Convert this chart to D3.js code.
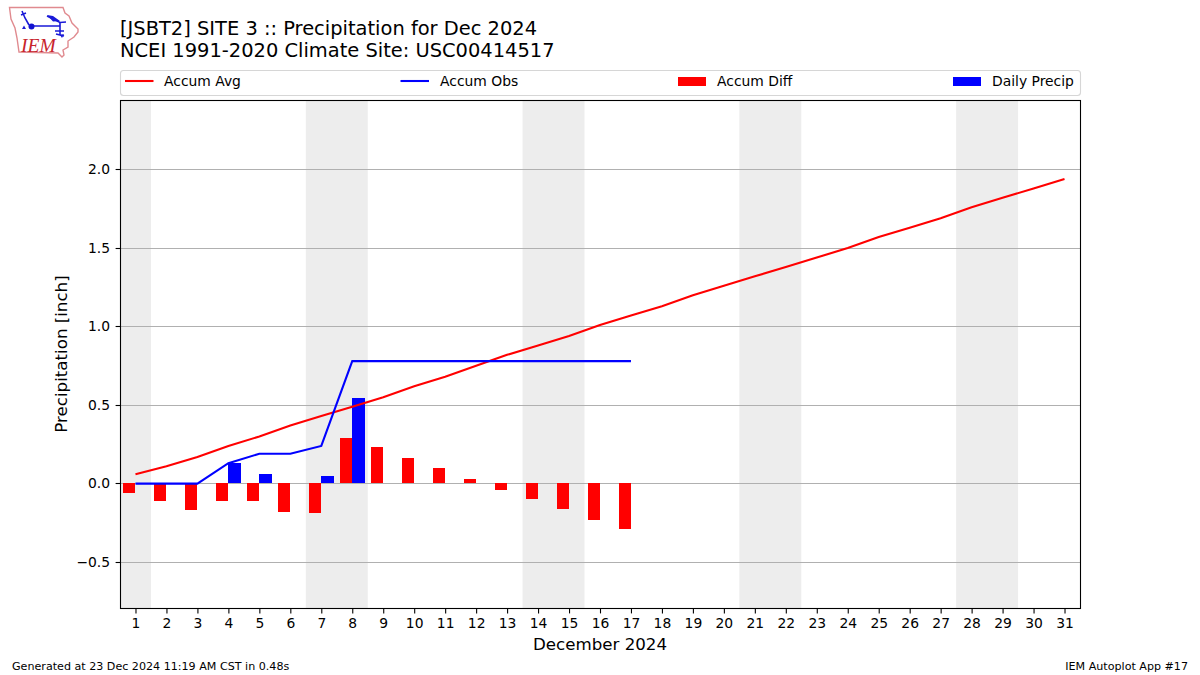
<!DOCTYPE html>
<html><head><meta charset="utf-8">
<script src="https://cdn.jsdelivr.net/npm/d3@7"></script>
<style>html,body{margin:0;padding:0;background:#fff}svg{display:block}text{font-family:"DejaVu Sans",sans-serif;fill:#000}</style>
</head><body><svg id="c" width="1200" height="675"></svg>
<script>
const titleLines = ["[JSBT2] SITE 3 :: Precipitation for Dec 2024", "NCEI 1991-2020 Climate Site: USC00414517"];
const days = d3.range(1, 32);
const accumAvg = [0.06,0.11,0.17,0.24,0.30,0.37,0.43,0.49,0.55,0.62,0.68,0.75,0.82,0.88,0.94,1.01,1.07,1.13,1.20,1.26,1.32,1.38,1.44,1.50,1.57,1.63,1.69,1.76,1.82,1.88,1.94];
const accumObs = [0,0,0,0.13,0.19,0.19,0.24,0.78,0.78,0.78,0.78,0.78,0.78,0.78,0.78,0.78,0.78];
const accumDiff = [-0.06,-0.11,-0.17,-0.11,-0.11,-0.18,-0.19,0.29,0.23,0.16,0.10,0.03,-0.04,-0.10,-0.16,-0.23,-0.29];
const dailyPrecip = [0,0,0,0.13,0.06,0,0.05,0.545,0,0,0,0,0,0,0,0,0];
const weekendBands = [[0.5,1.5],[6.5,8.5],[13.5,15.5],[20.5,22.5],[27.5,29.5]];
const yTicks = [-0.5,0,0.5,1,1.5,2];
const legendItems = [["Accum Avg","line","#f00"],["Accum Obs","line","#00f"],["Accum Diff","bar","#f00"],["Daily Precip","bar","#00f"]];

const svg = d3.select("#c");
const L=120,R=1080,T=100,B=608;
const x = d3.scaleLinear().domain([0.5,31.5]).range([L,R]);
const y = d3.scaleLinear().domain([-0.7924,2.4433]).range([B,T]);
const snapY = v => Math.floor(y(v))+0.5;
const px = v => Math.round(x(v));
const baseY = Math.floor(y(0));

// logo
const logo = svg.append("g");
logo.append("path").attr("fill","none").attr("stroke","#e08a8f").attr("stroke-width",1.4)
 .attr("d","M9.5,7.5 L63,7.5 L65,13 L69,16 L72,23 L78,29 L78,32 L74,37 L68,41 L68,47 L63,50 L64,55 L62,57 L58,53 L19,52 L17,38 L15,28 L11,19 Z");
logo.append("path").attr("fill","none").attr("stroke","#1a1ad8").attr("stroke-width",1.6)
 .attr("d","M22,11 L25,18 L29,25 M21,15 L26,13 M31,26 L60,26 L60,35 M47,16 L60,22.5 L66,22 M60,22.5 L60,26 M55,31 L64,31 M56,34 L64,36");
logo.append("circle").attr("cx",31.5).attr("cy",26.5).attr("r",3).attr("fill","#1212d0");
logo.append("path").attr("fill","#1a1ad8").attr("d","M47,15 L53,16 L60,21 L53,21.5 Z M22,29 L24,25.5 L26,29 Z M60,35 L64,34 L62,38 Z");
logo.append("text").attr("x",21).attr("y",52).attr("font-size",19.5).style("font-family","'Liberation Serif',serif").style("font-style","italic").style("fill","#c8242c").text("IEM");

// title
svg.selectAll(".ttl").data(titleLines).join("text").attr("class","ttl")
 .attr("x",120).attr("y",(d,i)=>35+i*22).attr("font-size",19.44).text(d=>d);

// bands
svg.append("g").selectAll("rect").data(weekendBands).join("rect")
 .attr("x",d=>x(d[0])).attr("width",d=>x(d[1])-x(d[0])).attr("y",T).attr("height",B-T).attr("fill","#ededed");

// grid
svg.append("g").selectAll("line").data(yTicks).join("line")
 .attr("x1",L).attr("x2",R).attr("y1",snapY).attr("y2",snapY)
 .attr("stroke","#b0b0b0").attr("stroke-width",1.1);

// bars
const bw=0.4;
const edgeY = v => Math.round(y(v));
const diffData = accumDiff.map((v,i)=>({d:days[i],v}));
svg.append("g").attr("shape-rendering","crispEdges").selectAll("rect").data(diffData).join("rect")
 .attr("x",d=>px(d.d-bw)).attr("width",d=>px(d.d)-px(d.d-bw))
 .attr("y",d=>Math.min(edgeY(d.v),baseY)).attr("height",d=>Math.abs(edgeY(d.v)-baseY)).attr("fill","#f00");
const dailyData = dailyPrecip.map((v,i)=>({d:days[i],v})).filter(d=>d.v>0);
svg.append("g").attr("shape-rendering","crispEdges").selectAll("rect").data(dailyData).join("rect")
 .attr("x",d=>px(d.d)).attr("width",d=>px(d.d+bw)-px(d.d))
 .attr("y",d=>edgeY(d.v)).attr("height",d=>baseY-edgeY(d.v)).attr("fill","#00f");

// lines
const line = d3.line().x((d,i)=>x(days[i])).y(d=>y(d));
svg.append("path").attr("d",line(accumAvg)).attr("fill","none").attr("stroke","#f00").attr("stroke-width",2.08);
svg.append("path").attr("d",line(accumObs)).attr("fill","none").attr("stroke","#00f").attr("stroke-width",2.08);

// frame
svg.append("rect").attr("x",L+0.5).attr("y",T+0.5).attr("width",R-L).attr("height",B-T).attr("fill","none").attr("stroke","#000").attr("stroke-width",1.1);

// axes
const xa = svg.append("g").attr("transform",`translate(0,${B+0.5})`).call(d3.axisBottom(x).tickValues(days).tickFormat(d3.format("d")).tickSize(4.9).tickPadding(4.5));
const ya = svg.append("g").attr("transform",`translate(${L+0.5},0)`).call(d3.axisLeft(y).tickValues(yTicks).tickFormat(d=>d3.format(".1f")(d).replace("-","\u2212")).tickSize(4.9).tickPadding(5.5));
ya.selectAll(".tick").attr("transform",d=>`translate(0,${snapY(d)})`);
[xa,ya].forEach(a=>{a.select(".domain").remove();a.selectAll("line").attr("stroke","#000").attr("stroke-width",1.1);
 a.selectAll("text").attr("font-size",13.89).style("font-family",'"DejaVu Sans"');});

svg.append("text").attr("x",600).attr("y",649.5).attr("text-anchor","middle").attr("font-size",16.67).text("December 2024");
svg.append("text").attr("transform","translate(67,354) rotate(-90)").attr("text-anchor","middle").attr("font-size",16.67).text("Precipitation [inch]");

// legend
svg.append("rect").attr("x",L+0.5).attr("y",70.5).attr("width",R-L).attr("height",25).attr("rx",3).attr("fill","#fff").attr("stroke","#d6d6d6").attr("stroke-width",1.1);
const legendX = [125,400.5,678,953];
const legendTextX = [164,440,717,992];
legendItems.forEach((it,i)=>{
  const lx=legendX[i];
  if(it[1]==="line") svg.append("line").attr("x1",lx).attr("x2",lx+28.5).attr("y1",81).attr("y2",81).attr("stroke",it[2]).attr("stroke-width",2.08);
  else svg.append("rect").attr("x",lx).attr("y",77).attr("width",28).attr("height",9).attr("fill",it[2]);
  svg.append("text").attr("x",legendTextX[i]).attr("y",86).attr("font-size",13.89).text(it[0]);
});

// footer
svg.append("text").attr("x",12).attr("y",670).attr("font-size",11.11).text("Generated at 23 Dec 2024 11:19 AM CST in 0.48s");
svg.append("text").attr("x",1188).attr("y",670).attr("text-anchor","end").attr("font-size",11.11).text("IEM Autoplot App #17");
</script></body></html>
